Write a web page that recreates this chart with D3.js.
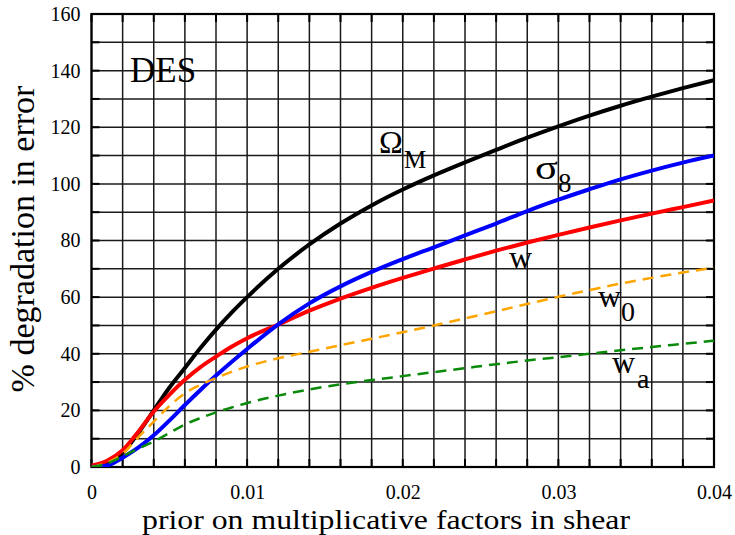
<!DOCTYPE html>
<html><head><meta charset="utf-8">
<script src="https://cdn.jsdelivr.net/npm/d3@7"></script>
<style>body{margin:0;background:#fff}svg{display:block}text{font-family:"Liberation Serif","Times New Roman",serif;fill:#000}</style>
</head><body>
<svg id="c" width="735" height="535"></svg>
<script>
const xVals = [0,0.001,0.002,0.003,0.004,0.005,0.006,0.007,0.008,0.009,0.010,0.012,0.014,0.016,0.018,0.020,0.022,0.024,0.026,0.028,0.030,0.032,0.034,0.036,0.038,0.040];
const omegaM = [0,1.5,5,12,20,28,35,42,48.5,54.5,60,70,78.6,86,92.4,98,103,107.6,112,116.3,120.3,124.1,127.6,130.8,133.8,136.6];
const sigma8 = [0,0.5,3.3,6.8,11.2,16.4,21.9,27.2,32.3,37.1,41.7,50.4,57.8,63.8,68.9,73.4,77.6,81.8,86,90.4,94.4,98.1,101.6,104.7,107.5,110];
const wVals  = [0.5,2.2,5.9,12.4,19.6,25.5,30.8,35.3,39,42.5,45.5,50.3,55.2,59.5,63.3,66.8,70.1,73.3,76.4,79.3,82,84.6,87.1,89.5,91.8,94.1];
const w0Vals = [0,1.5,4.7,10.5,16,21.5,26,29,31.4,33.6,35.5,38.4,40.7,43,45.3,47.6,50,52.5,55,57.6,60.1,62.5,64.8,66.8,68.7,70.4];
const waVals = [0,1.2,3.8,6.5,9,12,15,17.3,19.3,21,22.6,25.2,27.4,29.2,30.7,32.1,33.5,34.9,36.3,37.6,38.8,40,41.2,42.4,43.5,44.6];
const xTicks = [0,0.01,0.02,0.03,0.04];
const yTicks = [0,20,40,60,80,100,120,140,160];
const xGrid = d3.range(0,0.04001,0.002);
const yGrid = d3.range(0,160.01,10);

const svg = d3.select("#c");
const L=91.5,R=714,T=14,B=467;
const x = d3.scaleLinear().domain([0,0.04]).range([L,R]);
const y = d3.scaleLinear().domain([0,160]).range([B,T]);

const g = svg.append("g");
g.selectAll(".vg").data(xGrid).enter().append("line")
 .attr("x1",d=>x(d)).attr("x2",d=>x(d)).attr("y1",T).attr("y2",B)
 .attr("stroke","#1a1a1a").attr("stroke-width",1.5);
g.selectAll(".hg").data(yGrid).enter().append("line")
 .attr("y1",d=>y(d)).attr("y2",d=>y(d)).attr("x1",L).attr("x2",R)
 .attr("stroke","#1a1a1a").attr("stroke-width",1.5);
const tl=8;
xGrid.forEach(d=>{
 g.append("line").attr("x1",x(d)).attr("x2",x(d)).attr("y1",B).attr("y2",B-tl).attr("stroke","#000").attr("stroke-width",2);
 g.append("line").attr("x1",x(d)).attr("x2",x(d)).attr("y1",T).attr("y2",T+tl).attr("stroke","#000").attr("stroke-width",2);
});
yGrid.forEach(d=>{
 g.append("line").attr("y1",y(d)).attr("y2",y(d)).attr("x1",L).attr("x2",L+tl).attr("stroke","#000").attr("stroke-width",2);
 g.append("line").attr("y1",y(d)).attr("y2",y(d)).attr("x1",R).attr("x2",R-tl).attr("stroke","#000").attr("stroke-width",2);
});
g.append("rect").attr("x",L).attr("y",T).attr("width",R-L).attr("height",B-T)
 .attr("fill","none").attr("stroke","#000").attr("stroke-width",2.2);

const xAxis = d3.axisBottom(x).tickValues(xTicks).tickFormat(d=>d===0?"0":d3.format(".2f")(d)).tickSize(0).tickPadding(18);
const xa = svg.append("g").attr("transform",`translate(0,${B})`).call(xAxis);
xa.select(".domain").remove();
xa.selectAll("text").attr("font-size",20);
const yAxis = d3.axisLeft(y).tickValues(yTicks).tickSize(0).tickPadding(11);
const ya = svg.append("g").attr("transform",`translate(${L},0)`).call(yAxis);
ya.select(".domain").remove();
ya.selectAll("text").attr("font-size",20);

const line = d3.line().x((d,i)=>x(xVals[i])).y(d=>y(d)).curve(d3.curveMonotoneX);
const series = [
 {v:omegaM,c:"#000000",w:4,dash:null},
 {v:wVals,c:"#ff0000",w:4,dash:null},
 {v:sigma8,c:"#0000ff",w:4,dash:null},
 {v:w0Vals,c:"#ffa500",w:2.5,dash:"11,7"},
 {v:waVals,c:"#0a8a0a",w:2.5,dash:"11,7"}
];
svg.append("clipPath").attr("id","cp").append("rect").attr("x",L).attr("y",T).attr("width",R-L).attr("height",B-T);
series.forEach(s=>{
 svg.append("path").attr("d",line(s.v)).attr("fill","none").attr("stroke",s.c)
  .attr("stroke-width",s.w).attr("stroke-dasharray",s.dash).attr("clip-path","url(#cp)");
});

const ann = (tx,ty,txt,fs,len)=>{const t=svg.append("text").attr("x",tx).attr("y",ty).attr("font-size",fs).text(txt);
 if(len) t.attr("textLength",len).attr("lengthAdjust","spacingAndGlyphs"); return t;};
ann(130,82,"DES",35);
ann(379,153,"Ω",32); ann(404,168,"M",25);
ann(535,179,"σ",34,23); ann(558,192,"8",27);
ann(509,268,"w",32);
ann(598,307,"w",32); ann(621,321,"0",28);
ann(612,373,"w",32); ann(637,388,"a",28);

svg.append("text").attr("x",142).attr("y",529).attr("font-size",27)
 .attr("textLength",488).attr("lengthAdjust","spacingAndGlyphs")
 .text("prior on multiplicative factors in shear");
svg.append("text").attr("transform","translate(34,239) rotate(-90)").attr("text-anchor","middle").attr("font-size",34)
 .text("% degradation in error");
</script>
</body></html>
